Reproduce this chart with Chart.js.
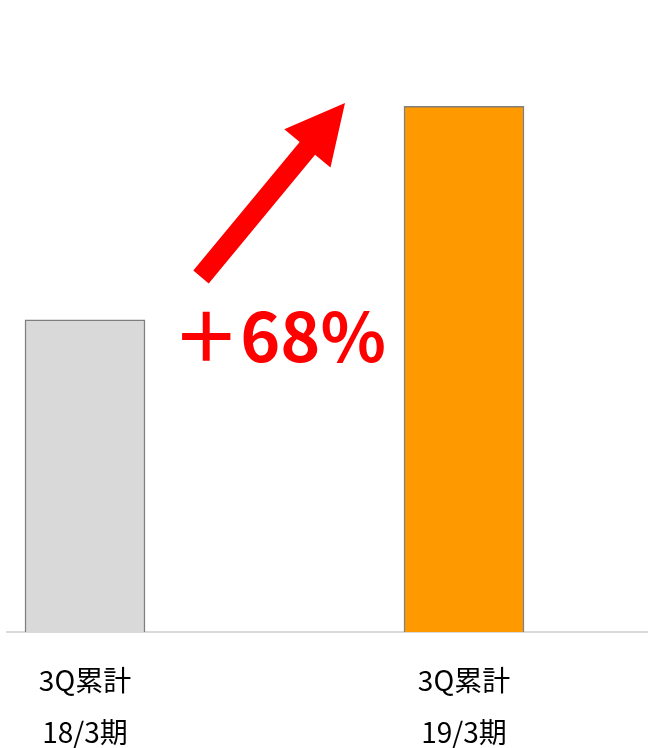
<!DOCTYPE html>
<html>
<head>
<meta charset="utf-8">
<script src="https://cdn.jsdelivr.net/npm/chart.js@4/dist/chart.umd.min.js"></script>
<style>
  html, body { margin: 0; padding: 0; background: #ffffff; }
  #wrap { width: 648px; height: 748px; }
</style>
</head>
<body>
<div id="wrap"><canvas id="c" width="648" height="748"></canvas></div>
<script>
// ---- data ----
const categories = [["3Q累計", "18/3期"], ["3Q累計", "19/3期"]];
const positions = [0, 1];
const values = [100, 168.4];
const barColors = ["#d9d9d9", "#ff9900"];
const borderColor = "#7f7f7f";

const growth = Math.round((values[1] / values[0] - 1) * 100);
const growthLabel = "＋" + growth + "%";

// arrow annotation (pixel geometry relative to canvas)
const arrowTail = [201, 277];
const arrowTip = [345, 103];

const annotationPlugin = {
  id: 'annot',
  afterDatasetsDraw(chart) {
    const ctx = chart.ctx;
    const [tx, ty] = arrowTail, [px, py] = arrowTip;
    const dx = px - tx, dy = py - ty, L = Math.hypot(dx, dy);
    const ux = dx / L, uy = dy / L, nx = -uy, ny = ux;
    const hw = 10, headLen = 59, headHw = 30;
    const Nx = px - ux * headLen, Ny = py - uy * headLen;
    ctx.save();
    ctx.fillStyle = '#ff0000';
    ctx.beginPath();
    ctx.moveTo(tx + nx * hw, ty + ny * hw);
    ctx.lineTo(Nx + nx * hw, Ny + ny * hw);
    ctx.lineTo(Nx + nx * headHw, Ny + ny * headHw);
    ctx.lineTo(px, py);
    ctx.lineTo(Nx - nx * headHw, Ny - ny * headHw);
    ctx.lineTo(Nx - nx * hw, Ny - ny * hw);
    ctx.lineTo(tx - nx * hw, ty - ny * hw);
    ctx.closePath();
    ctx.fill();
    ctx.font = "bold 68px 'Noto Sans CJK JP', 'Noto Sans', sans-serif";
    ctx.textAlign = 'center';
    ctx.textBaseline = 'middle';
    ctx.fillText(growthLabel, 279, 336);
    ctx.restore();
  }
};

new Chart(document.getElementById('c'), {
  type: 'bar',
  data: {
    datasets: [{
      data: positions.map((p, i) => ({ x: p, y: values[i] })),
      backgroundColor: barColors,
      borderColor: borderColor,
      borderWidth: 1.5,
      barThickness: 120
    }]
  },
  options: {
    responsive: false,
    animation: false,
    devicePixelRatio: 1,
    layout: { padding: { left: 7, right: 0, top: 0, bottom: 0 } },
    plugins: { legend: { display: false }, tooltip: { enabled: false } },
    scales: {
      x: {
        type: 'linear',
        offset: false,
        min: -0.2058,
        max: 1.4855,
        grid: { display: false, drawTicks: false, offset: false },
        border: { display: true, color: '#d9d9d9', width: 2 },
        afterBuildTicks(scale) { scale.ticks = positions.map(v => ({ value: v })); },
        afterFit(scale) { scale.height = 116; },
        ticks: {
          autoSkip: false,
          maxRotation: 0,
          padding: 22,
          color: '#000000',
          font: { family: "'Noto Sans CJK JP', 'Noto Sans', sans-serif", size: 28, lineHeight: '52px' },
          callback(value) { const i = positions.indexOf(value); return i >= 0 ? categories[i] : ''; }
        }
      },
      y: {
        display: false,
        min: 0,
        max: 202.5
      }
    }
  },
  plugins: [annotationPlugin]
});
</script>
</body>
</html>
